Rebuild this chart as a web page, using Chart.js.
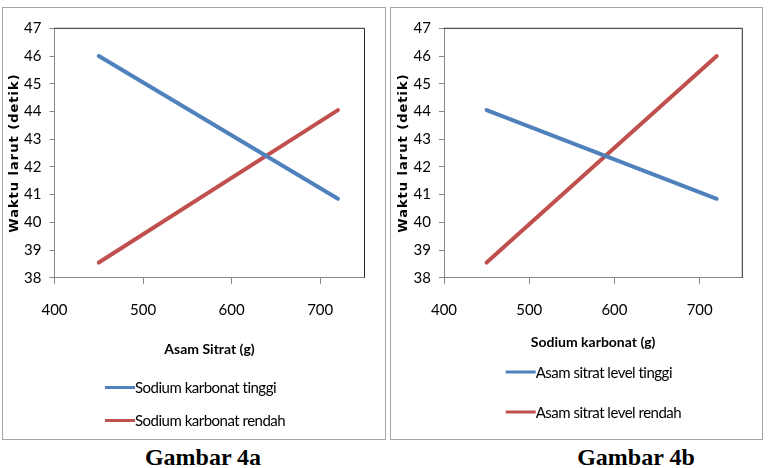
<!DOCTYPE html>
<html>
<head>
<meta charset="utf-8">
<script src="https://cdn.jsdelivr.net/npm/chart.js@4.4.0/dist/chart.umd.min.js"></script>
<style>
    body { margin: 0; background: #fff; width: 768px; height: 468px; position: relative; overflow: hidden; }
    .box { position: absolute; top: 7px; height: 433px; border: 1px solid #a6a6a6; box-sizing: border-box; }
    .box canvas { position: absolute; left: 0; top: 0; }
    .caption { position: absolute; top: 444px; width: 200px; text-align: center; font: bold 24px 'Liberation Serif', 'Times New Roman', serif; color: #000; }
</style>
</head>
<body>
<div class="box" id="box-a" style="left:2px; width:384px;"><canvas id="chart-a" width="382" height="431"></canvas></div>
<div class="box" id="box-b" style="left:390px; width:373px;"><canvas id="chart-b" width="371" height="431"></canvas></div>
<div class="caption" style="left:103px;">Gambar 4a</div>
<div class="caption" style="left:536px;">Gambar 4b</div>
<script>
// Data
const xValues = [450, 720];
const yTicks = [38, 39, 40, 41, 42, 43, 44, 45, 46, 47];
const xTicks = [400, 500, 600, 700];

// Gambar 4a: x = Asam Sitrat (g)
const sodiumTinggi = [46.0, 40.85];
const sodiumRendah = [38.55, 44.05];
// Gambar 4b: x = Sodium karbonat (g)
const asamTinggi = [44.05, 40.85];
const asamRendah = [38.55, 46.0];

const BLUE = '#4F81BD';
const RED = '#C0504D';
const AXIS_GREY = '#868686';
const TEXT_FONT = "Lato, 'Liberation Sans', sans-serif";
const Y_TITLE = 'Waktu larut (detik)';

const toPoints = ys => xValues.map((x, i) => ({ x: x, y: ys[i] }));

// Plot area frame (top + right edges) like the Excel chart
const framePlugin = {
    id: 'frame',
    beforeDatasetsDraw(chart) {
        const { ctx, chartArea: a } = chart;
        ctx.save();
        ctx.strokeStyle = '#262626';
        ctx.lineWidth = 1;
        ctx.beginPath();
        ctx.moveTo(a.left, a.top);
        ctx.lineTo(a.right, a.top);
        ctx.lineTo(a.right, a.bottom);
        ctx.stroke();
        ctx.restore();
    }
};

// Vertical legend below the axis title, plus the spaced-out y title
const stackedLegend = {
    id: 'stackedLegend',
    afterDraw(chart, args, opts) {
        const ctx = chart.ctx;
        const a = chart.chartArea;
        ctx.save();
        chart.data.datasets.forEach((ds, i) => {
            const y = opts.ys[i];
            ctx.strokeStyle = ds.borderColor;
            ctx.lineWidth = 3;
            ctx.beginPath();
            ctx.moveTo(opts.x, y);
            ctx.lineTo(opts.x + 30, y);
            ctx.stroke();
            ctx.fillStyle = '#000';
            ctx.font = '15px ' + TEXT_FONT;
            ctx.letterSpacing = '-0.5px';
            ctx.textAlign = 'left';
            ctx.textBaseline = 'middle';
            ctx.fillText(ds.label, opts.x + 30, y + 1);
        });
        ctx.translate(opts.titleX, (a.top + a.bottom) / 2);
        ctx.rotate(-Math.PI / 2);
        ctx.font = "bold 13px 'DejaVu Sans', sans-serif";
        ctx.letterSpacing = '1px';
        ctx.textAlign = 'center';
        ctx.textBaseline = 'middle';
        ctx.fillText(Y_TITLE, 0, 0);
        ctx.restore();
    }
};

function makeChart(canvasId, xTitle, series, layout) {
    return new Chart(document.getElementById(canvasId), {
        type: 'line',
        data: {
            datasets: series.map(s => ({
                label: s.label,
                data: toPoints(s.values),
                borderColor: s.color,
                backgroundColor: s.color,
                borderWidth: 4,
                borderCapStyle: 'round',
                pointRadius: 0,
                tension: 0
            }))
        },
        options: {
            responsive: false,
            animation: false,
            devicePixelRatio: 1,
            layout: { padding: { top: 20.3, right: layout.right, bottom: 0, left: 0 } },
            plugins: {
                legend: { display: false },
                tooltip: { enabled: false },
                stackedLegend: { x: layout.legendX, ys: layout.legendYs, titleX: layout.titleX }
            },
            scales: {
                x: {
                    type: 'linear',
                    min: 400,
                    max: 750,
                    afterBuildTicks: scale => { scale.ticks = xTicks.map(v => ({ value: v })); },
                    afterFit: scale => { scale.height = 431 - 269.8; },
                    grid: { drawOnChartArea: false, drawTicks: true, tickLength: 6, color: AXIS_GREY },
                    border: { display: true, color: AXIS_GREY },
                    ticks: { color: '#000', padding: 17, font: { family: TEXT_FONT, size: 15 }, maxRotation: 0 },
                    title: {
                        display: true,
                        text: xTitle,
                        color: '#000',
                        font: { family: TEXT_FONT, size: 14, weight: 'bold' },
                        padding: { top: 0, bottom: layout.titlePad }
                    }
                },
                y: {
                    min: 38,
                    max: 47,
                    afterBuildTicks: scale => { scale.ticks = yTicks.map(v => ({ value: v })); },
                    afterFit: scale => { scale.width = layout.yWidth; },
                    grid: { drawOnChartArea: false, drawTicks: true, tickLength: 5, color: AXIS_GREY },
                    border: { display: true, color: AXIS_GREY },
                    ticks: { color: '#000', padding: 8, font: { family: TEXT_FONT, size: 15 } }
                }
            }
        },
        plugins: [framePlugin, stackedLegend]
    });
}

makeChart('chart-a', 'Asam Sitrat (g)', [
    { label: 'Sodium karbonat tinggi', values: sodiumTinggi, color: BLUE },
    { label: 'Sodium karbonat rendah', values: sodiumRendah, color: RED }
], { right: 20.5, yWidth: 51.5, titlePad: 81, legendX: 102, legendYs: [379.5, 412.5], titleX: 12 });

makeChart('chart-b', 'Sodium karbonat (g)', [
    { label: 'Asam sitrat level tinggi', values: asamTinggi, color: BLUE },
    { label: 'Asam sitrat level rendah', values: asamRendah, color: RED }
], { right: 19.7, yWidth: 53, titlePad: 88, legendX: 114.7, legendYs: [364, 404], titleX: 13 });
</script>
</body>
</html>
